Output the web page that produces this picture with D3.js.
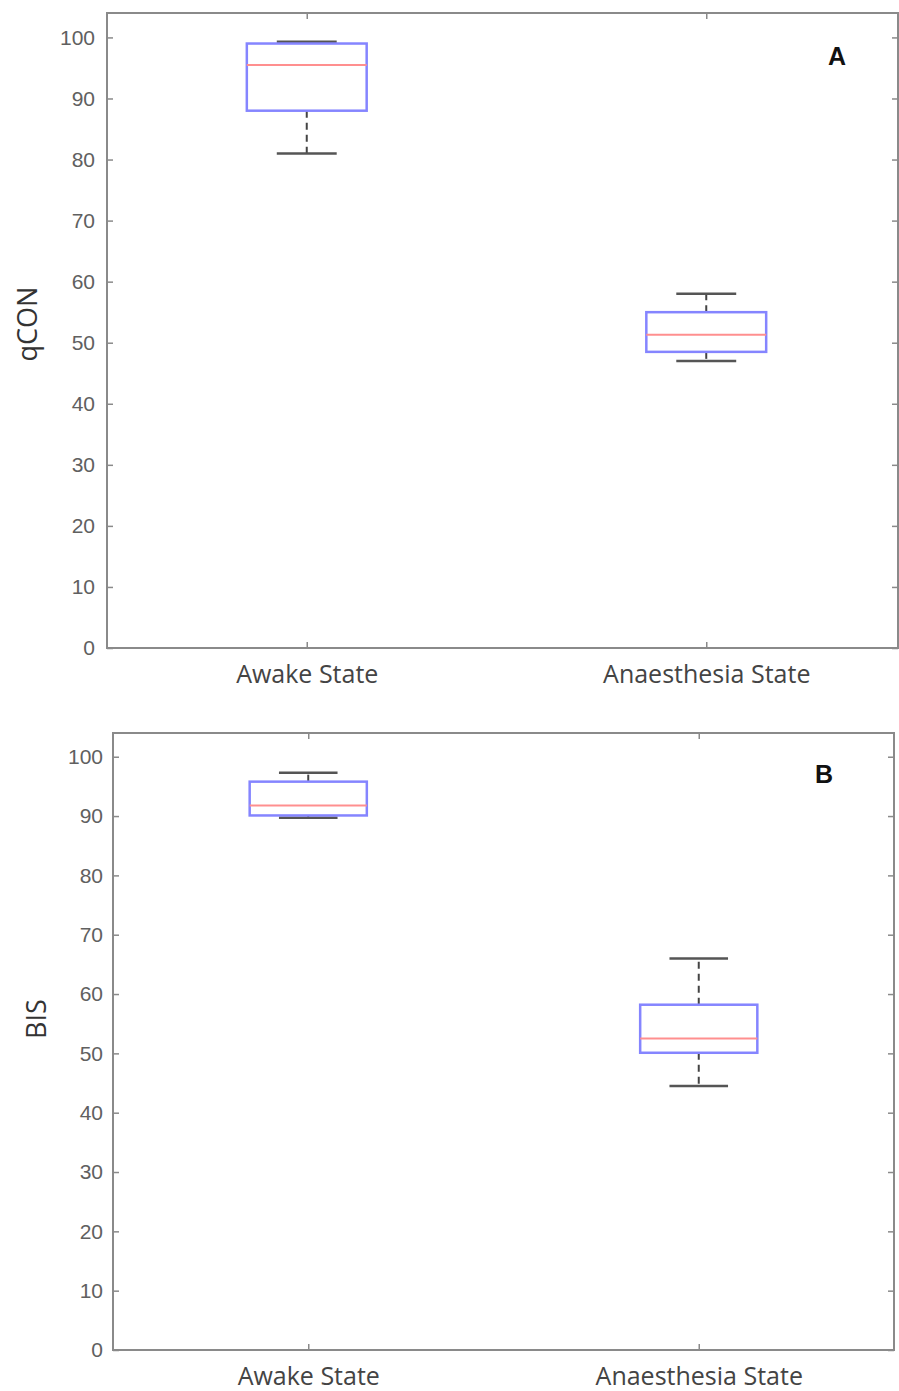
<!DOCTYPE html>
<html>
<head>
<meta charset="utf-8">
<script src="https://cdn.jsdelivr.net/npm/d3@7"></script>
<style>
  html, body { margin: 0; padding: 0; background: #fff; }
  svg { display: block; }
</style>
</head>
<body>
<svg id="chart" width="899" height="1391"></svg>
<script>
// ---- data ----
const categories = ["Awake State", "Anaesthesia State"];
const yTicks = [0, 10, 20, 30, 40, 50, 60, 70, 80, 90, 100];
const panelLabels = ["A", "B"];
const yLabels = ["qCON", "BIS"];

const qconMin    = [81.0, 47.0];
const qconQ1     = [88.0, 48.5];
const qconMedian = [95.5, 51.3];
const qconQ3     = [99.0, 55.0];
const qconMax    = [99.3, 58.0];

const bisMin    = [89.7, 44.5];
const bisQ1     = [90.1, 50.1];
const bisMedian = [91.8, 52.5];
const bisQ3     = [95.8, 58.2];
const bisMax    = [97.3, 66.0];

// ---- layout ----
const svg = d3.select("#chart");
const frameColor = "#8a8a8a";
const textColor = "#606060";

const panels = [
  { min: qconMin, q1: qconQ1, med: qconMedian, q3: qconQ3, max: qconMax,
    left: 107, right: 906, frameRight: 898, top: 13, bottom: 648, label: panelLabels[0], ylab: yLabels[0],
    tickFont: 21, tickPad: 12, catFont: 25, ylabX: 37, ylabY: 324, labX: 837, labY: 58 },
  { min: bisMin, q1: bisQ1, med: bisMedian, q3: bisQ3, max: bisMax,
    left: 113, right: 894, frameRight: 894, top: 733, bottom: 1350, label: panelLabels[1], ylab: yLabels[1],
    tickFont: 21, tickPad: 10, catFont: 25, ylabX: 46, ylabY: 1019, labX: 824, labY: 776 }
];

panels.forEach(p => {
  const x = d3.scaleLinear().domain([0.5, 2.5]).range([p.left, p.right]);
  const y = d3.scaleLinear().domain([0, 104]).range([p.bottom, p.top]);
  const g = svg.append("g");

  // frame
  g.append("rect")
    .attr("x", p.left).attr("y", p.top)
    .attr("width", p.frameRight - p.left).attr("height", p.bottom - p.top)
    .attr("fill", "none").attr("stroke", frameColor).attr("stroke-width", 2);

  // left axis
  const yAxis = d3.axisLeft(y).tickValues(yTicks).tickSize(-6).tickPadding(p.tickPad);
  const ya = g.append("g").attr("transform", `translate(${p.left},0)`).call(yAxis);
  ya.select(".domain").remove();
  ya.selectAll("line").attr("stroke", frameColor).attr("stroke-width", 1.5);
  ya.selectAll("text").attr("fill", textColor)
    .style("font-family", "'Liberation Sans', Arial, sans-serif")
    .style("font-size", p.tickFont + "px");

  // right axis ticks
  const yr = g.append("g").attr("transform", `translate(${p.frameRight},0)`)
    .call(d3.axisRight(y).tickValues(yTicks).tickSize(-6).tickFormat(""));
  yr.select(".domain").remove();
  yr.selectAll("line").attr("stroke", frameColor).attr("stroke-width", 1.5);

  // bottom axis
  const xAxis = d3.axisBottom(x).tickValues([1, 2]).tickSize(-6).tickPadding(17)
    .tickFormat((d, i) => categories[i]);
  const xa = g.append("g").attr("transform", `translate(0,${p.bottom})`).call(xAxis);
  xa.select(".domain").remove();
  xa.selectAll("line").attr("stroke", frameColor).attr("stroke-width", 1.5);
  xa.selectAll("text").attr("fill", "#444")
    .style("font-family", "'Open Sans', sans-serif")
    .style("font-size", p.catFont + "px")
    .attr("dy", "0.71em");

  // top axis ticks
  const xt = g.append("g").attr("transform", `translate(0,${p.top})`)
    .call(d3.axisTop(x).tickValues([1, 2]).tickSize(-6).tickFormat(""));
  xt.select(".domain").remove();
  xt.selectAll("line").attr("stroke", frameColor).attr("stroke-width", 1.5);

  // y label
  g.append("text")
    .attr("transform", `translate(${p.ylabX},${p.ylabY}) rotate(-90)`)
    .attr("text-anchor", "middle")
    .attr("fill", "#333")
    .style("font-family", "'Open Sans', sans-serif")
    .style("font-size", "27px")
    .text(p.ylab);

  // panel label
  g.append("text")
    .attr("x", p.labX).attr("y", p.labY)
    .attr("text-anchor", "middle").attr("dominant-baseline", "middle")
    .attr("fill", "#111")
    .style("font-family", "'Liberation Sans', Arial, sans-serif")
    .style("font-weight", "bold")
    .style("font-size", "25px")
    .text(p.label);

  // boxes
  const idx = d3.range(categories.length);
  const boxHalf = 0.15, capHalf = 0.075;
  const bx = g.append("g");

  // whiskers (dashed)
  bx.selectAll(".wu").data(idx).join("line")
    .attr("x1", i => x(i + 1)).attr("x2", i => x(i + 1))
    .attr("y1", i => y(p.q3[i])).attr("y2", i => y(p.max[i]))
    .attr("stroke", "#444").attr("stroke-width", 2).attr("stroke-dasharray", "7,5");
  bx.selectAll(".wl").data(idx).join("line")
    .attr("x1", i => x(i + 1)).attr("x2", i => x(i + 1))
    .attr("y1", i => y(p.q1[i])).attr("y2", i => y(p.min[i]))
    .attr("stroke", "#444").attr("stroke-width", 2).attr("stroke-dasharray", "7,5");

  // caps
  [p.max, p.min].forEach(arr => {
    bx.append("g").selectAll("line").data(idx).join("line")
      .attr("x1", i => x(i + 1 - capHalf)).attr("x2", i => x(i + 1 + capHalf))
      .attr("y1", i => y(arr[i])).attr("y2", i => y(arr[i]))
      .attr("stroke", "#555").attr("stroke-width", 2.5);
  });

  // box
  bx.append("g").selectAll("rect").data(idx).join("rect")
    .attr("x", i => x(i + 1 - boxHalf))
    .attr("y", i => y(p.q3[i]))
    .attr("width", i => x(i + 1 + boxHalf) - x(i + 1 - boxHalf))
    .attr("height", i => y(p.q1[i]) - y(p.q3[i]))
    .attr("fill", "none").attr("stroke", "#8585ff").attr("stroke-width", 2.5);

  // median
  bx.append("g").selectAll("line").data(idx).join("line")
    .attr("x1", i => x(i + 1 - boxHalf)).attr("x2", i => x(i + 1 + boxHalf))
    .attr("y1", i => y(p.med[i])).attr("y2", i => y(p.med[i]))
    .attr("stroke", "#ff8f8f").attr("stroke-width", 2);
});
</script>
</body>
</html>
